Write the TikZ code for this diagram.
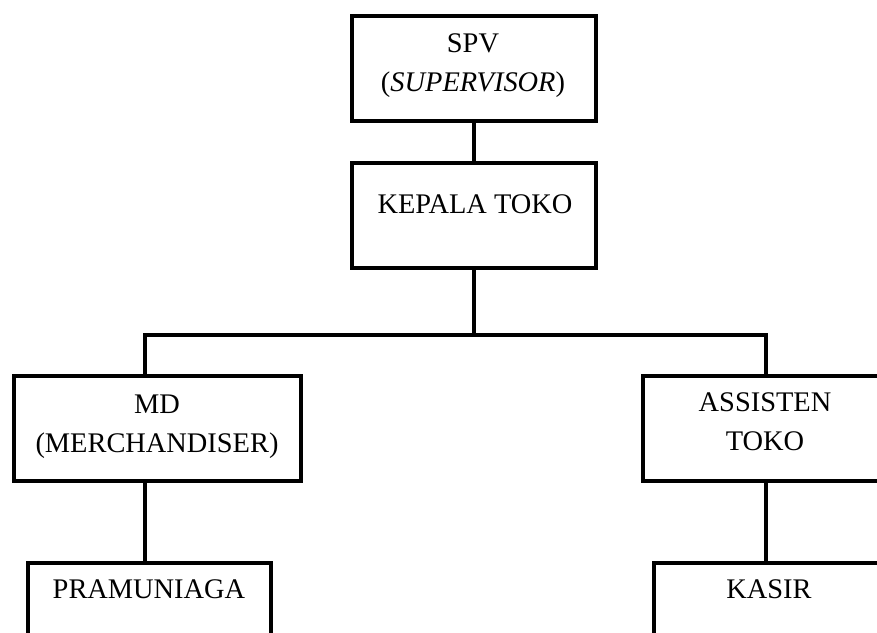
\documentclass[tikz,border=0pt]{standalone}
\usepackage{fontspec}
\setmainfont{Liberation Serif}
\usepackage{tikz}
\usetikzlibrary{positioning}

\begin{document}
\begin{tikzpicture}[x=0.5pt, y=-0.5pt,
  unit/.style={draw=black, line width=2pt, fill=white, inner sep=0pt, minimum height=52.5pt},
  lbl/.style={inner sep=0pt, anchor=base, align=center, font=\fontsize{14.2}{19.5}\selectfont},
  link/.style={draw=black, line width=2pt}
]
  \clip (0,0) rectangle (877,632);
  \fill[white] (0,0) rectangle (877,632);

  % boxes
  \node[unit, minimum width=122pt] (spv) at (474,68.5) {};
  \node[unit, minimum width=122pt] (kepala) at (474,215) {};
  \node[unit, minimum width=143.5pt] (md) at (157.5,428.5) {};
  \node[unit, minimum width=122pt] (asst) at (765,428.5) {};
  \node[unit, minimum width=121.5pt] (pram) at (149.5,615.5) {};
  \node[unit, minimum width=115pt] (kasir) at (769,615.5) {};

  % texts (base = last line)
  \node[lbl] (spvtxt) at (473,91) {SPV\\(\textit{SUPERVISOR})};
  \node[lbl] (kepalatxt) at (475,213) {KEPALA TOKO};
  \node[lbl] (mdtxt) at (157,452) {MD\\(MERCHANDISER)};
  \node[lbl] (assttxt) at (765,450) {ASSISTEN\\TOKO};
  \node[lbl] (pramtxt) at (149,598) {PRAMUNIAGA};
  \node[lbl] (kasirtxt) at (769,598) {KASIR};

  % connectors
  \coordinate (jl) at (145,335);
  \coordinate (jr) at (766,335);
  \draw[link] (spv.south) -- (kepala.north);
  \draw[link] (kepala.south) -- (kepala.south |- jl);
  \draw[link] (jl |- md.north) -- (jl) -- (jr) -- (jr |- asst.north);
  \draw[link] (jl |- md.south) -- (jl |- pram.north);
  \draw[link] (jr |- asst.south) -- (jr |- kasir.north);
\end{tikzpicture}
\end{document}
